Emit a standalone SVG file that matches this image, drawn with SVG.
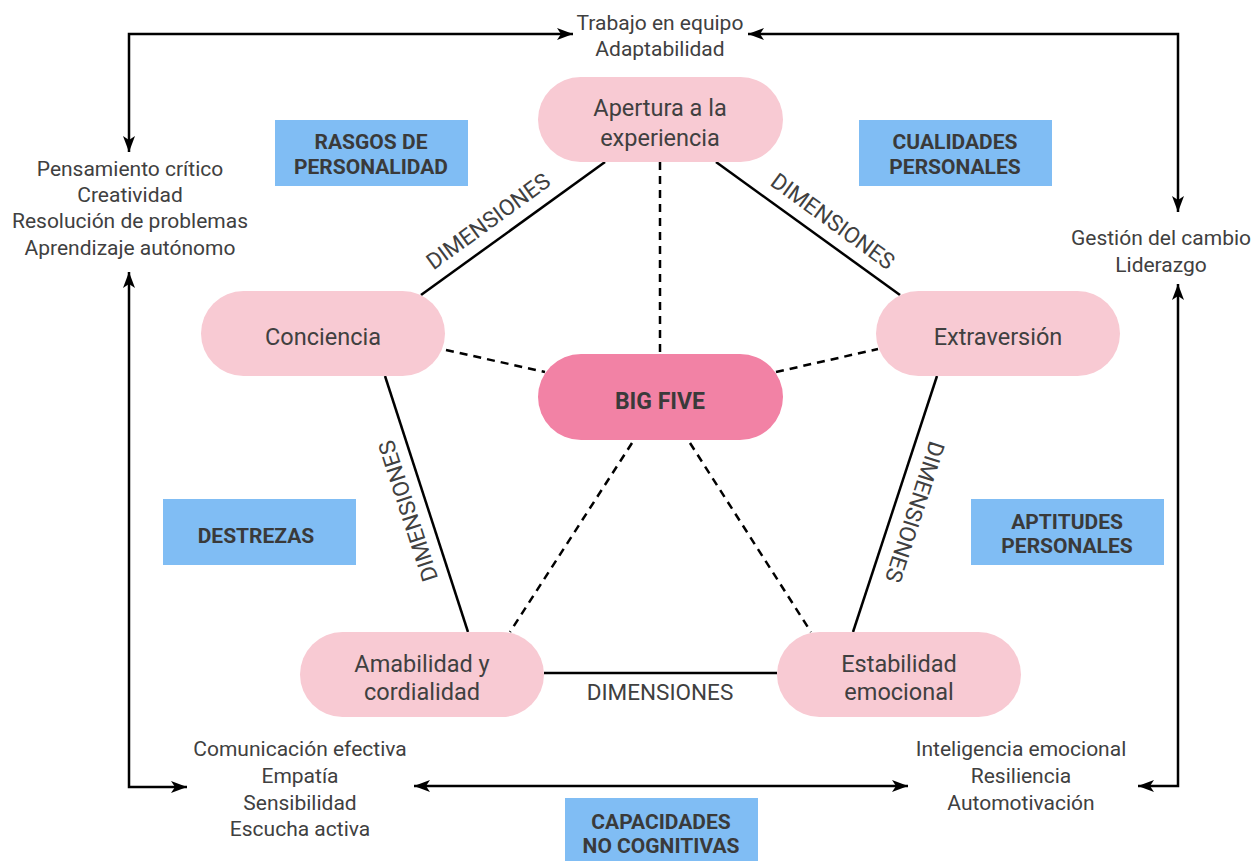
<svg xmlns="http://www.w3.org/2000/svg" width="1254" height="861" viewBox="0 0 1254 861">
<defs>
<marker id="ah2" viewBox="0 0 16 12" refX="16" refY="6" markerWidth="16" markerHeight="12" orient="auto-start-reverse" markerUnits="userSpaceOnUse">
<path d="M0,0 L16,6 L0,12 L4,6 Z" fill="#000"/>
</marker>
<style>
.t{font-family:Roboto,"Liberation Sans",sans-serif;font-size:21px;fill:#404040;text-anchor:middle;dominant-baseline:central}
.n{font-family:Roboto,"Liberation Sans",sans-serif;font-size:23.5px;fill:#404040;text-anchor:middle;dominant-baseline:central}
.d{font-family:Roboto,"Liberation Sans",sans-serif;font-size:22.5px;fill:#404040;text-anchor:middle;dominant-baseline:central}
.b{font-family:Roboto,"Liberation Sans",sans-serif;font-size:21px;font-weight:bold;fill:#3a3a3a;text-anchor:middle;dominant-baseline:central}
.bf{font-family:Roboto,"Liberation Sans",sans-serif;font-size:23px;font-weight:bold;fill:#3a3a3a;text-anchor:middle;dominant-baseline:central}
.node{fill:#f8cad3}
.big{fill:#f282a5}
.cat{fill:#80bdf4}
.solid{stroke:#000;stroke-width:2.5;fill:none}
.dash{stroke:#000;stroke-width:2.5;fill:none;stroke-dasharray:8 6}
.arr2{stroke:#000;stroke-width:2.5;fill:none;marker-start:url(#ah2);marker-end:url(#ah2)}
</style>
</defs>
<rect width="1254" height="861" fill="#fff"/>
<g id="connectors">
<line class="solid" x1="605" y1="162" x2="421" y2="295"/>
<line class="solid" x1="716" y1="162" x2="900" y2="295"/>
<line class="solid" x1="385" y1="376" x2="468" y2="632"/>
<line class="solid" x1="937" y1="376" x2="853" y2="632"/>
<line class="solid" x1="544" y1="673" x2="777" y2="673"/>
<line class="dash" x1="660" y1="162" x2="660" y2="354"/>
<line class="dash" x1="446" y1="350" x2="545" y2="372"/>
<line class="dash" x1="776" y1="372" x2="878" y2="349"/>
<line class="dash" x1="632" y1="443" x2="510" y2="632"/>
<line class="dash" x1="690" y1="443" x2="811" y2="632"/>
<text class="d" transform="translate(488,221) rotate(-36)">DIMENSIONES</text>
<text class="d" transform="translate(833,221) rotate(36)">DIMENSIONES</text>
<text class="d" transform="translate(408,511) rotate(-108)">DIMENSIONES</text>
<text class="d" transform="translate(915,512) rotate(108)">DIMENSIONES</text>
<text class="d" x="660" y="692">DIMENSIONES</text>
<polyline class="arr2" points="129,152 129,34 573,34"/>
<polyline class="arr2" points="748,34 1178,34 1178,212"/>
<polyline class="arr2" points="129,272 129,787 187,787"/>
<line class="arr2" x1="414" y1="786" x2="908" y2="786"/>
<polyline class="arr2" points="1178,284 1178,786 1138,786"/>
</g>
<g id="n-apertura">
<rect class="node" x="538" y="77" width="245" height="85" rx="42.5"/>
<text class="n" x="660" y="108">Apertura a la</text>
<text class="n" x="660" y="138">experiencia</text>
</g>
<g id="n-conciencia">
<rect class="node" x="201" y="291" width="244" height="85" rx="42.5"/>
<text class="n" x="323" y="337">Conciencia</text>
</g>
<g id="n-extraversion">
<rect class="node" x="876" y="291" width="244" height="85" rx="42.5"/>
<text class="n" x="998" y="337">Extraversión</text>
</g>
<g id="n-bigfive">
<rect class="big" x="538" y="354" width="245" height="86" rx="43"/>
<text class="bf" x="660" y="401">BIG FIVE</text>
</g>
<g id="n-amabilidad">
<rect class="node" x="300" y="632" width="244" height="85" rx="42.5"/>
<text class="n" x="422" y="664">Amabilidad y</text>
<text class="n" x="422" y="692">cordialidad</text>
</g>
<g id="n-estabilidad">
<rect class="node" x="777" y="632" width="244" height="85" rx="42.5"/>
<text class="n" x="899" y="664">Estabilidad</text>
<text class="n" x="899" y="692">emocional</text>
</g>
<g id="c-rasgos">
<rect class="cat" x="275" y="120" width="193" height="66"/>
<text class="b" x="371" y="142">RASGOS DE</text>
<text class="b" x="371" y="167">PERSONALIDAD</text>
</g>
<g id="c-cualidades">
<rect class="cat" x="859" y="120" width="193" height="66"/>
<text class="b" x="955" y="142">CUALIDADES</text>
<text class="b" x="955" y="167">PERSONALES</text>
</g>
<g id="c-destrezas">
<rect class="cat" x="163" y="499" width="193" height="66"/>
<text class="b" x="256" y="536">DESTREZAS</text>
</g>
<g id="c-aptitudes">
<rect class="cat" x="971" y="499" width="193" height="66"/>
<text class="b" x="1067" y="522">APTITUDES</text>
<text class="b" x="1067" y="546">PERSONALES</text>
</g>
<g id="c-capacidades">
<rect class="cat" x="565" y="798" width="193" height="70"/>
<text class="b" x="661" y="822">CAPACIDADES</text>
<text class="b" x="661" y="846">NO COGNITIVAS</text>
</g>
<g id="l-top">
<text class="t" x="660" y="23">Trabajo en equipo</text>
<text class="t" x="660" y="49">Adaptabilidad</text>
</g>
<g id="l-left">
<text class="t" x="130" y="169">Pensamiento crítico</text>
<text class="t" x="130" y="195">Creatividad</text>
<text class="t" x="130" y="221">Resolución de problemas</text>
<text class="t" x="130" y="248">Aprendizaje autónomo</text>
</g>
<g id="l-right">
<text class="t" x="1161" y="238">Gestión del cambio</text>
<text class="t" x="1161" y="265">Liderazgo</text>
</g>
<g id="l-bottomleft">
<text class="t" x="300" y="749">Comunicación efectiva</text>
<text class="t" x="300" y="776">Empatía</text>
<text class="t" x="300" y="803">Sensibilidad</text>
<text class="t" x="300" y="829">Escucha activa</text>
</g>
<g id="l-bottomright">
<text class="t" x="1021" y="749">Inteligencia emocional</text>
<text class="t" x="1021" y="776">Resiliencia</text>
<text class="t" x="1021" y="803">Automotivación</text>
</g>
</svg>
